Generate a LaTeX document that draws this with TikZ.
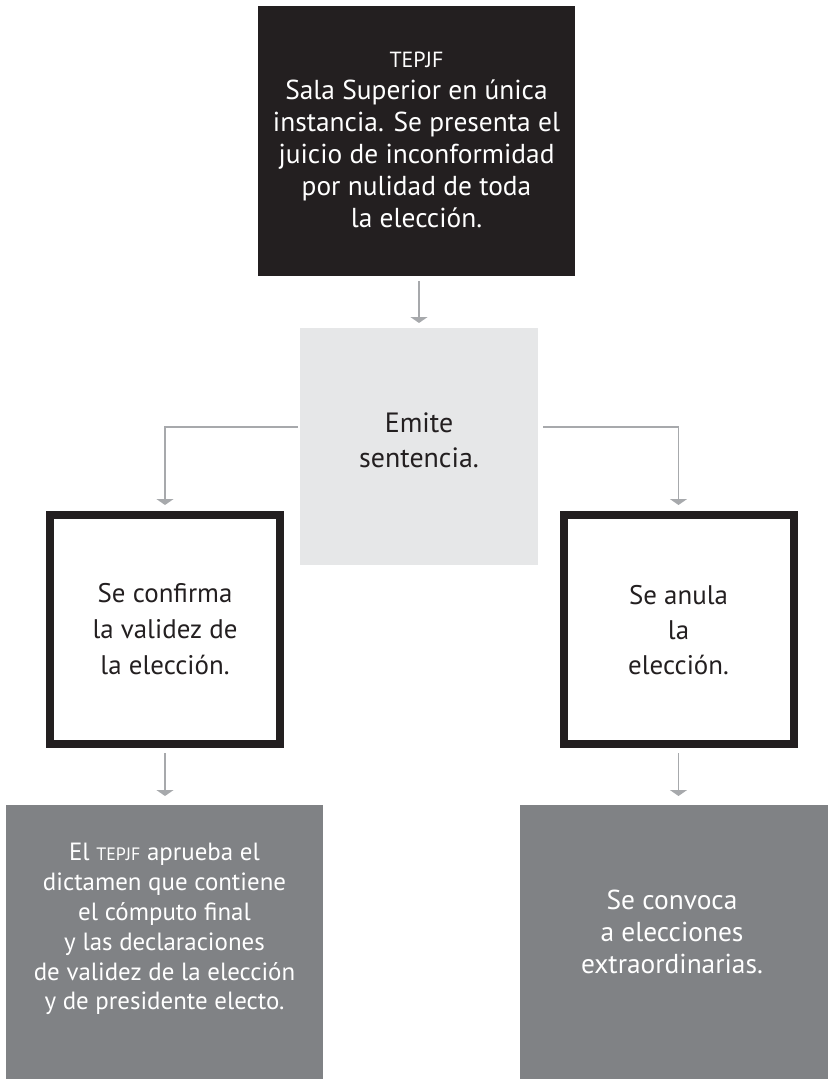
\documentclass[tikz,border=0pt]{standalone}
\usepackage{fontspec}
\setmainfont{PT Sans}
\usetikzlibrary{arrows.meta}
\definecolor{ink}{HTML}{231F20}
\definecolor{lightbox}{HTML}{E6E7E8}
\definecolor{midbox}{HTML}{808285}
\definecolor{conncol}{HTML}{A7A9AC}
\begin{document}
\begin{tikzpicture}[x=1bp,y=-1bp,
  box/.style={inner sep=0pt, outer sep=0pt, draw=none},
  txt/.style={align=center, inner sep=0pt, font=\fontsize{27.5}{32}\selectfont},
  framebox/.style={box, draw=ink, line width=8bp, fill=white, minimum width=230bp, minimum height=229bp},
  conn/.style={draw=conncol, line width=1.4bp, -{Triangle[width=17bp,length=6bp]}},
]
\useasboundingbox (0,0) rectangle (828,1079);
% boxes
\node[box, fill=ink, minimum width=317bp, minimum height=270bp] (tb) at (416.5,141) {};
\node[txt, text=white] (tbt) at (416.5,140) {{\fontsize{22}{32}\selectfont TEPJF}\\Sala Superior en única\\instancia. Se presenta el\\juicio de inconformidad\\por nulidad de toda\\la elección.};
\node[box, fill=lightbox, minimum width=238bp, minimum height=237bp] (em) at (419,446.5) {};
\node[txt, text=ink, font=\fontsize{28}{35}\selectfont] (emt) at (419,440) {Emite\\sentencia.};
\node[framebox] (lb) at (165,629.5) {};
\node[txt, text=ink, font=\fontsize{27}{36}\selectfont] (lbt) at (165,629) {Se confirma\\la validez de\\la elección.};
\node[framebox] (rb) at (678.5,629.5) {};
\node[txt, text=ink, font=\fontsize{27}{35}\selectfont] (rbt) at (678.5,630) {Se anula\\la\\elección.};
\node[box, fill=midbox, minimum width=317bp, minimum height=274bp] (bl) at (164.5,942) {};
\node[txt, text=white, font=\fontsize{25}{30}\selectfont] (blt) at (164.5,929) {El {\fontsize{18}{30}\selectfont TEPJF} aprueba el\\dictamen que contiene\\el cómputo final\\y las declaraciones\\de validez de la elección\\y de presidente electo.};
\node[box, fill=midbox, minimum width=308bp, minimum height=274bp] (br) at (674,942) {};
\node[txt, text=white, font=\fontsize{27.5}{32}\selectfont] (brt) at (672,932) {Se convoca\\a elecciones\\extraordinarias.};
% connectors
\draw[conn, shorten <=5bp, shorten >=5bp] (em.north |- tb.south) -- (em.north);
\draw[conn, shorten <=2bp, shorten >=10bp] ([yshift=19.5bp]em.west) -| (lb.north);
\draw[conn, shorten <=5bp, shorten >=10bp] ([yshift=19.5bp]em.east) -| (rb.north);
\draw[conn, shorten <=9bp, shorten >=9bp] (lb.south) -- (lb.south |- bl.north);
\draw[conn, shorten <=9bp, shorten >=9bp] (rb.south) -- (rb.south |- br.north);
\end{tikzpicture}
\end{document}
